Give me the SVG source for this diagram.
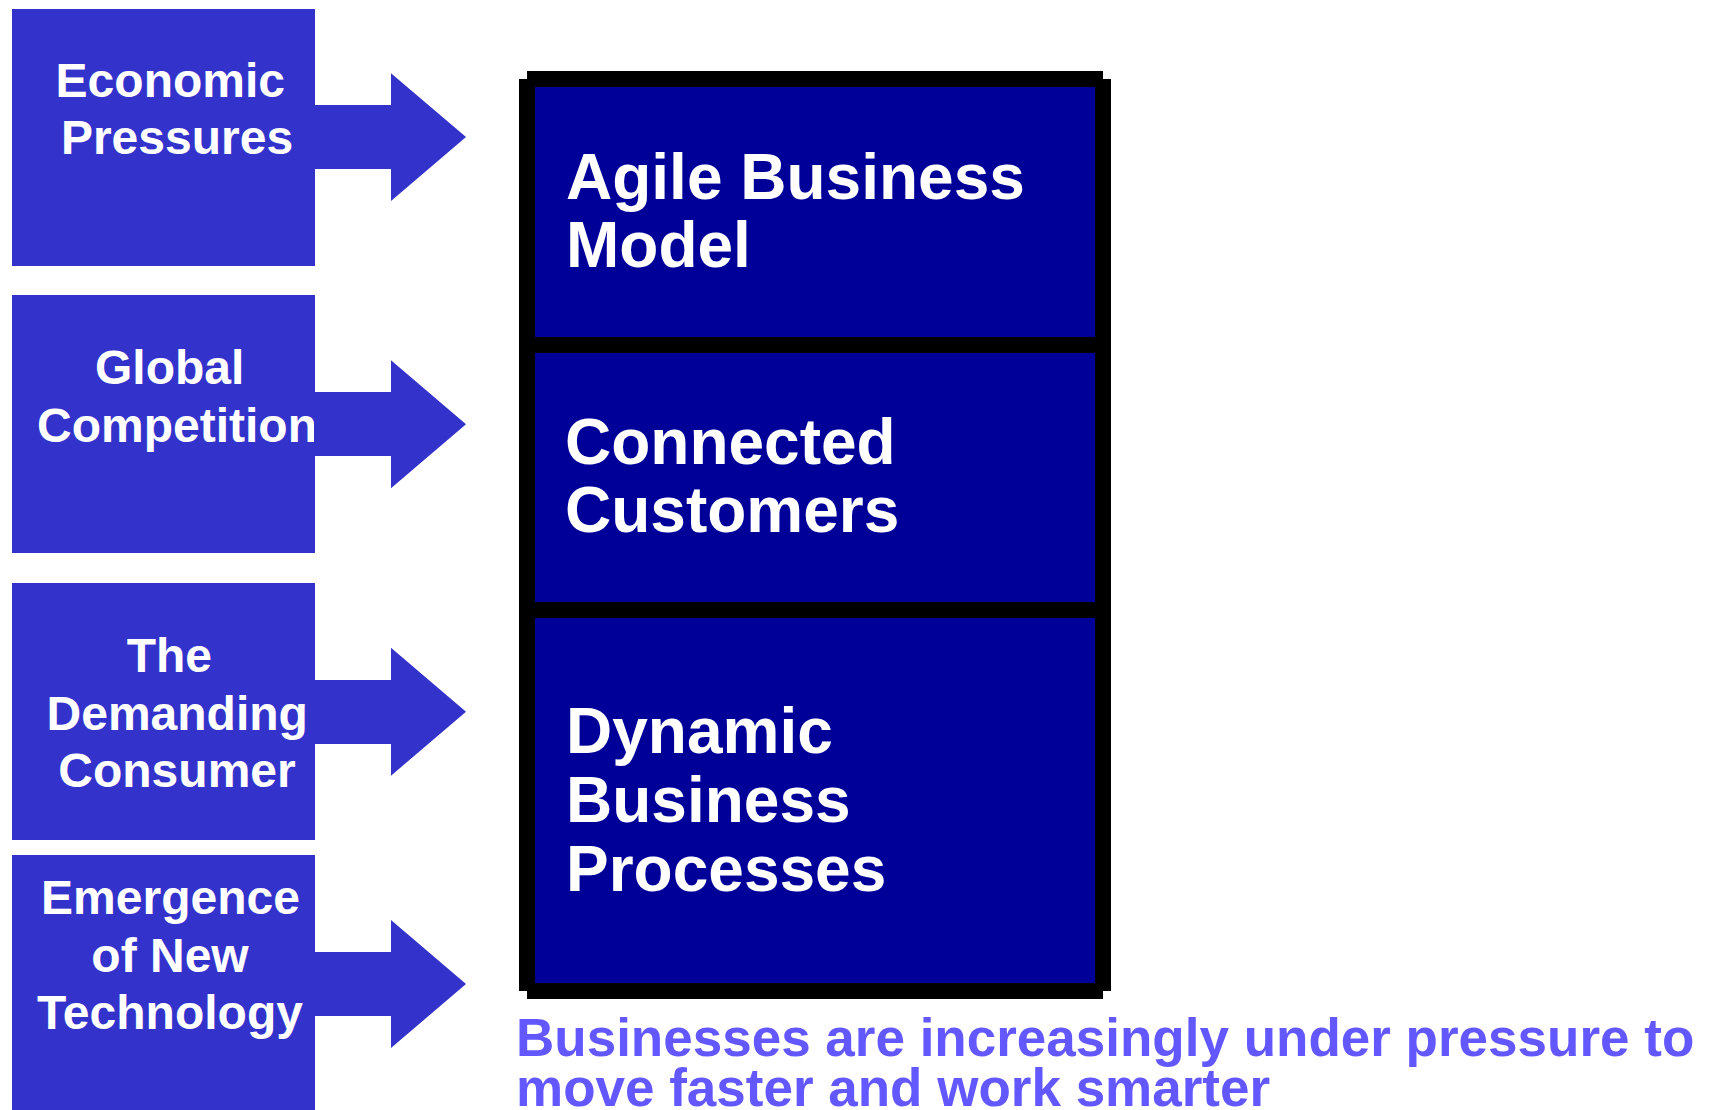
<svg xmlns="http://www.w3.org/2000/svg" width="1711" height="1110" viewBox="0 0 1711 1110">
<style>
.src{fill:#3333CC}
.srct{font-family:"Liberation Sans",Arial,sans-serif;font-weight:bold;font-size:48px;fill:#FFFFFF;text-anchor:middle}
.arr{fill:#3333CC}
.panel{fill:#000099}
.frame{stroke:#000000;stroke-width:16;fill:none;stroke-linecap:butt}
.maint{font-family:"Liberation Sans",Arial,sans-serif;font-weight:bold;font-size:64px;fill:#FFFFFF}
.cap{font-family:"Liberation Sans",Arial,sans-serif;font-weight:bold;font-size:53px;fill:#6357FF}
</style>
<rect width="1711" height="1110" fill="#FFFFFF"/>

<g id="economic-pressures">
<rect class="src" x="12" y="9" width="303" height="257"/>
<text class="srct" x="170.3" y="97.3">Economic</text>
<text class="srct" x="177" y="154">Pressures</text>
</g>

<g id="global-competition">
<rect class="src" x="12" y="295" width="303" height="258"/>
<text class="srct" x="169.7" y="384">Global</text>
<text class="srct" x="177" y="441.7">Competition</text>
</g>

<g id="demanding-consumer">
<rect class="src" x="12" y="583" width="303" height="257"/>
<text class="srct" x="169.3" y="671.7">The</text>
<text class="srct" x="177.2" y="730">Demanding</text>
<text class="srct" x="177" y="787.3">Consumer</text>
</g>

<g id="new-technology">
<rect class="src" x="12" y="855" width="303" height="257"/>
<text class="srct" x="170.5" y="914.3">Emergence</text>
<text class="srct" x="170" y="971.7">of New</text>
<text class="srct" x="170" y="1029.3">Technology</text>
</g>

<g id="connectors">
<polygon class="arr" points="314,105 391,105 391,73.3 466,137 391,201 391,169 314,169"/>
<polygon class="arr" points="314,392 391,392 391,360.2 466,424.2 391,488.2 391,456 314,456"/>
<polygon class="arr" points="314,680 391,680 391,647.7 466,711.7 391,775.7 391,744 314,744"/>
<polygon class="arr" points="314,952 391,952 391,920 466,984 391,1048 391,1016 314,1016"/>
</g>

<g id="agile-business-model">
<rect class="panel" x="534" y="86" width="562" height="252"/>
<text class="maint" x="566" y="199">Agile Business</text>
<text class="maint" x="566" y="267.3">Model</text>
</g>

<g id="connected-customers">
<rect class="panel" x="534" y="352" width="562" height="252"/>
<text class="maint" x="565" y="464">Connected</text>
<text class="maint" x="565" y="531.7">Customers</text>
</g>

<g id="dynamic-business-processes">
<rect class="panel" x="534" y="617" width="562" height="368"/>
<text class="maint" x="566" y="752.7">Dynamic</text>
<text class="maint" x="566" y="821.7">Business</text>
<text class="maint" x="566" y="891">Processes</text>
</g>

<g id="frame">
<line class="frame" x1="527" y1="79" x2="1103" y2="79"/>
<line class="frame" x1="527" y1="79" x2="527" y2="991"/>
<line class="frame" x1="1103" y1="79" x2="1103" y2="991"/>
<line class="frame" x1="527" y1="991" x2="1103" y2="991"/>
<line class="frame" x1="527" y1="345" x2="1103" y2="345"/>
<line class="frame" x1="527" y1="610" x2="1103" y2="610"/>
</g>

<g id="caption">
<text class="cap" x="516" y="1055.7">Businesses are increasingly under pressure to</text>
<text class="cap" x="516" y="1106">move faster and work smarter</text>
</g>
</svg>
